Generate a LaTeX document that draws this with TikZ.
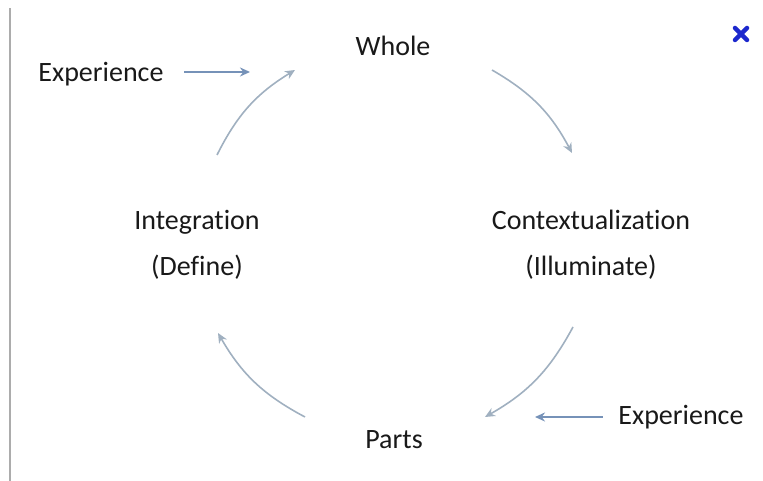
\documentclass[tikz,border=0pt]{standalone}
\usepackage{fontspec}
\setmainfont{Carlito}[Ligatures=NoCommon]
\usetikzlibrary{arrows.meta}
\definecolor{cycgray}{RGB}{160,176,192}
\definecolor{expblue}{RGB}{118,146,184}
\definecolor{xblue}{RGB}{28,40,205}
\tikzset{
  lbl/.style={font=\fontsize{28}{46}\selectfont,text=black!90,align=center},
  cyc/.style={line width=1.6pt,draw=cycgray,-{Stealth[length=10pt,width=9pt]},bend left=16},
  ex/.style={line width=2pt,draw=expblue,-{Stealth[length=10pt,width=9pt]}}
}

\begin{document}
\begin{tikzpicture}[x=1pt,y=1pt]
\useasboundingbox (0,0) rectangle (763,481);
\draw[line width=2pt,gray!65] (10,0) -- (10,473);
\node[lbl] (whole) at (393,435) {Whole};
\node[lbl] (ctx) at (591,236) {Contextualization\\(Illuminate)};
\node[lbl] (parts) at (394,41) {Parts};
\node[lbl] (integ) at (197,236) {Integration\\(Define)};
\node[lbl] (exptop) at (101,407) {Experience};
\node[lbl] (expbot) at (681,64) {Experience};
\coordinate (ta) at (217,326); \coordinate (ha) at (295,411);
\coordinate (tb) at (492,411); \coordinate (hb) at (572,328);
\coordinate (tc) at (573,154); \coordinate (hc) at (485,64);
\coordinate (td) at (305,64);  \coordinate (hd) at (218,148);
\coordinate (etop) at (250,409);
\coordinate (ebot) at (535,64);
\draw[cyc] (ta) to (ha);
\draw[cyc] (tb) to (hb);
\draw[cyc] (tc) to (hc);
\draw[cyc] (td) to (hd);
\draw[ex,shorten <=17pt] (exptop.east |- etop) -- (etop);
\draw[ex,shorten <=12pt] (expbot.west |- ebot) -- (ebot);
\draw[xblue,line width=4.5pt,line cap=round] (735,441) -- (747,453) (735,453) -- (747,441);
\end{tikzpicture}
\end{document}
